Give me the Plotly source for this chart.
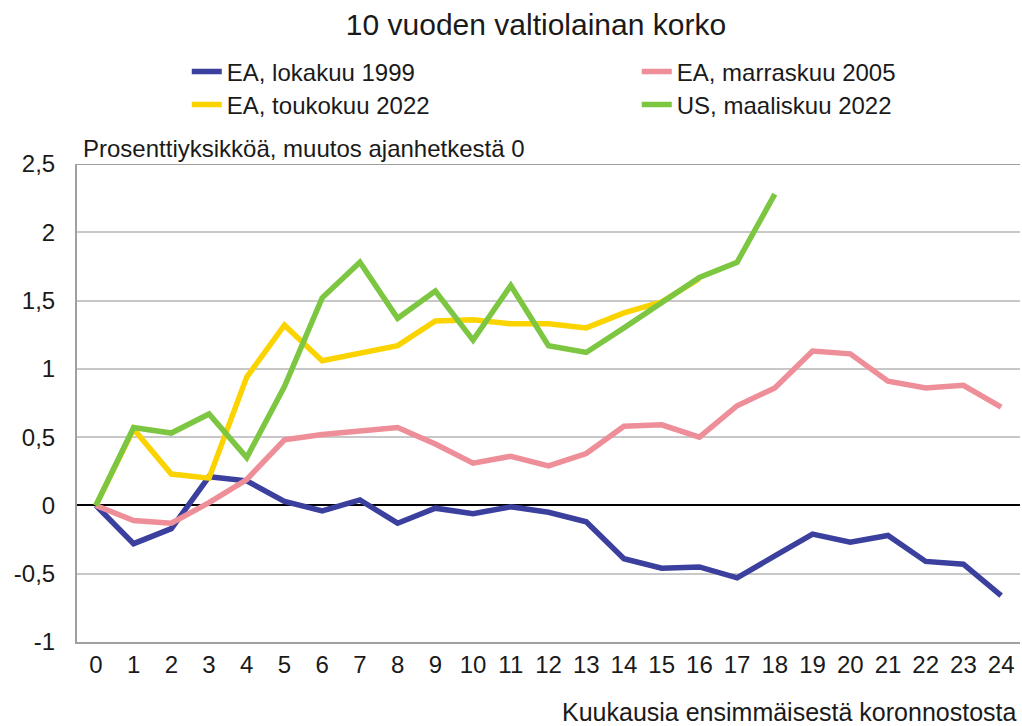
import plotly.graph_objects as go

months = list(range(25))
tick_labels = [str(m) for m in months]
y_tickvals = [-1, -0.5, 0, 0.5, 1, 1.5, 2, 2.5]
y_ticktext = ["-1", "-0,5", "0", "0,5", "1", "1,5", "2", "2,5"]

ea_1999 = [0, -0.28, -0.17, 0.21, 0.18, 0.03, -0.04, 0.04, -0.13, -0.02, -0.06, -0.01,
           -0.05, -0.12, -0.39, -0.46, -0.45, -0.53, -0.37, -0.21, -0.27, -0.22, -0.41, -0.43, -0.66]
ea_2005 = [0, -0.11, -0.13, 0.02, 0.19, 0.48, 0.52, 0.54, 0.57, 0.45, 0.31, 0.36,
           0.29, 0.38, 0.58, 0.59, 0.50, 0.73, 0.86, 1.13, 1.11, 0.91, 0.86, 0.88, 0.72]
ea_2022 = [0, 0.56, 0.23, 0.20, 0.94, 1.32, 1.06, 1.12, 1.17, 1.35, 1.36, 1.33,
           1.33, 1.30, 1.41, 1.49, 1.66]
us_2022 = [0, 0.57, 0.53, 0.67, 0.35, 0.87, 1.52, 1.78, 1.37, 1.57, 1.21, 1.61,
           1.17, 1.12, 1.30, 1.49, 1.67, 1.78, 2.28]

series = [
    ("EA, lokakuu 1999", ea_1999, "#3b3f9e", "legend"),
    ("EA, marraskuu 2005", ea_2005, "#ee8e98", "legend"),
    ("EA, toukokuu 2022", ea_2022, "#fbd400", "legend2"),
    ("US, maaliskuu 2022", us_2022, "#7cc642", "legend2"),
]

FONT = "Liberation Sans"
TXT = "#1a1a1a"
fig = go.Figure()
for name, vals, color, leg in series:
    fig.add_trace(go.Scatter(
        x=months[:len(vals)], y=vals, name=name, mode="lines", legend=leg,
        line=dict(color=color, width=5.5), hoverinfo="skip"))

leg_common = dict(orientation="h", xanchor="left", yanchor="middle",
                  entrywidth=405, entrywidthmode="pixels", itemwidth=30,
                  font=dict(size=24, color=TXT, family=FONT),
                  bgcolor="rgba(0,0,0,0)", borderwidth=0,
                  xref="paper", yref="container")

fig.update_layout(
    width=1022, height=726,
    margin=dict(l=77, r=2, t=164, b=84, autoexpand=False),
    paper_bgcolor="white", plot_bgcolor="white",
    font=dict(family=FONT, size=24, color=TXT),
    title=dict(text="10 vuoden valtiolainan korko", x=536 / 1022, xanchor="center",
               xref="container", yref="container",
               y=1 - 24 / 726, yanchor="middle", font=dict(size=30, color=TXT)),
    showlegend=True,
    legend=dict(x=0.1164, y=1 - 72 / 726, **leg_common),
    legend2=dict(x=0.1164, y=1 - 105 / 726, **leg_common),
    xaxis=dict(
        tickmode="array", tickvals=months, ticktext=tick_labels,
        range=[-0.5, 24.5], showgrid=False, zeroline=False,
        showline=True, linecolor="#a0a0a0", linewidth=2,
        ticks="", ticklabelstandoff=0, fixedrange=True,
        tickfont=dict(size=24, color=TXT)),
    yaxis=dict(
        range=[-1, 2.5], tickmode="array", tickvals=y_tickvals, ticktext=y_ticktext,
        showgrid=True, gridcolor="#c8c8c8", gridwidth=1.5,
        zeroline=True, zerolinecolor="#000000", zerolinewidth=1.5,
        showline=True, linecolor="#a0a0a0", linewidth=2,
        ticks="", ticklabelstandoff=15, fixedrange=True,
        tickfont=dict(size=24, color=TXT)),
    annotations=[
        dict(text="Prosenttiyksikköä, muutos ajanhetkestä 0", xref="paper", yref="paper",
             x=0.004, y=1.0, xanchor="left", yanchor="bottom", showarrow=False,
             font=dict(size=24, color=TXT)),
        dict(text="Kuukausia ensimmäisestä koronnostosta", xref="paper", yref="paper",
             x=0.999, y=-70 / 478, xanchor="right", yanchor="middle", showarrow=False,
             font=dict(size=25, color=TXT)),
    ],
)
fig.add_shape(type="line", xref="paper", yref="y", x0=0, x1=1, y0=2.5, y1=2.5,
              line=dict(color="#a0a0a0", width=2), layer="below")

fig.write_html(
    "out.html",
    config={"displayModeBar": False},
    post_script="document.body.style.margin='0';document.body.style.overflow='hidden';",
)
